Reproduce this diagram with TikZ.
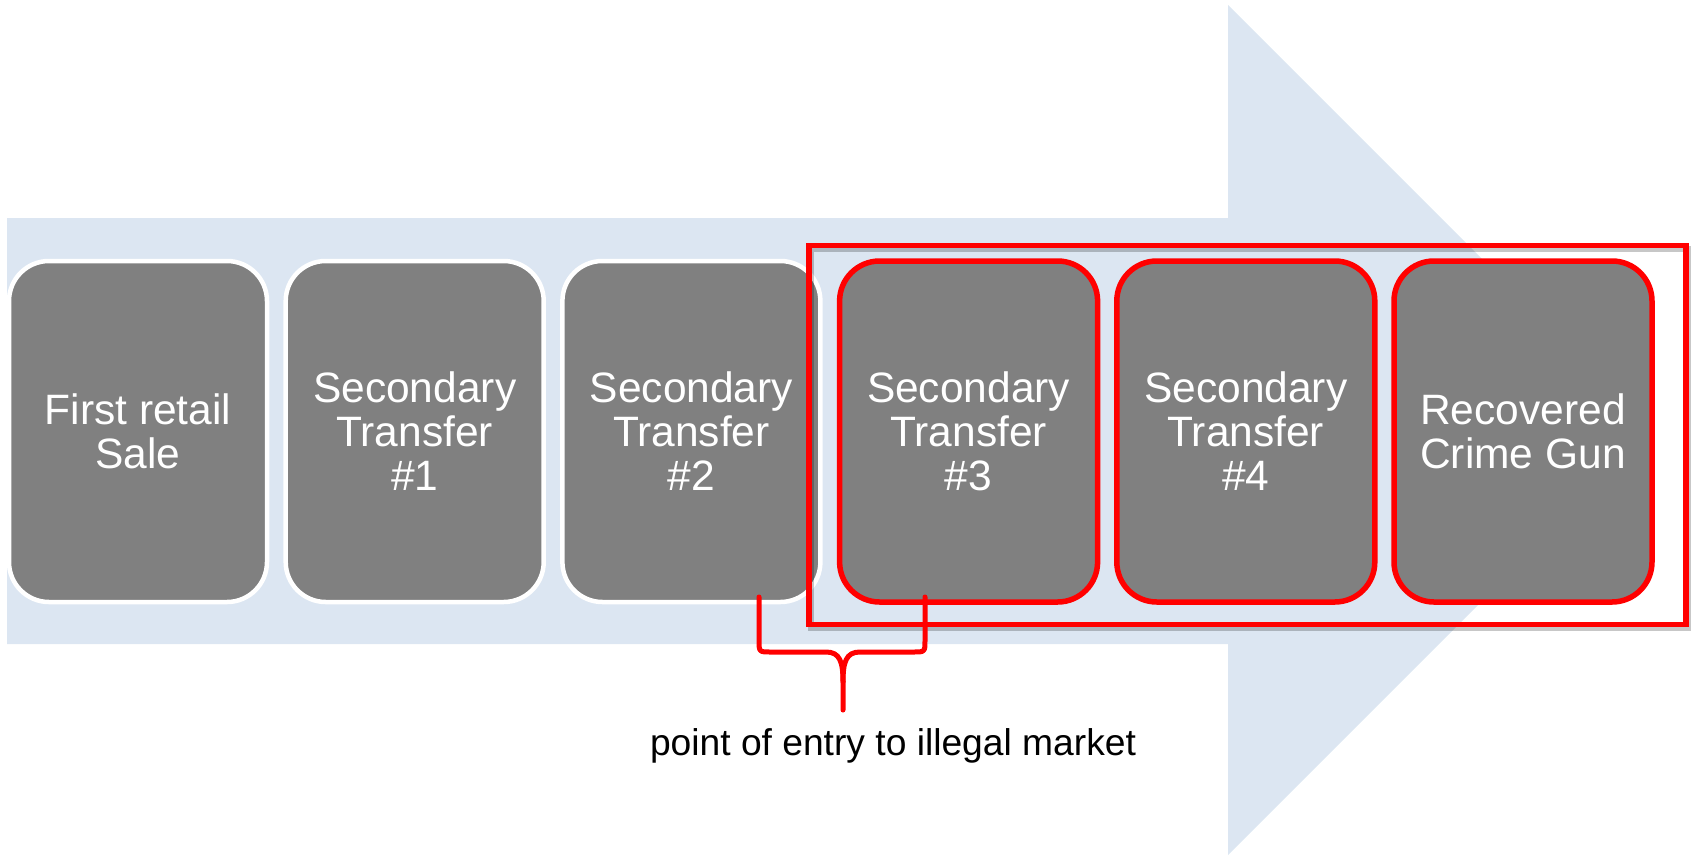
\documentclass[tikz,border=0pt]{standalone}
\usepackage{fontspec}
\setmainfont{Liberation Sans}
\definecolor{arrowblue}{HTML}{DCE6F2}
\definecolor{boxgray}{HTML}{808080}
\definecolor{markred}{HTML}{FF0000}
\begin{document}
\begin{tikzpicture}[x=1pt,y=-1pt,
  gbox/.style={draw=white, line width=4.5pt, fill=boxgray, rounded corners=40pt,
    minimum width=258pt, minimum height=341pt, inner sep=0pt, align=center,
    text=white, font=\fontsize{42.5}{44}\selectfont},
  rbox/.style={gbox, draw=markred, line width=5.5pt},
  frame/.style={draw=markred, line width=5.5pt, minimum width=877pt, minimum height=379pt, inner sep=0pt},
  shadowline/.style={draw=black, opacity=0.22, line width=6pt},
  bracepath/.style={draw=markred, line width=5pt, line cap=round, line join=round}]
\useasboundingbox (0,0) rectangle (1698,855);
% big arrow
\fill[arrowblue] (7,218) -- (1228,218) -- (1228,5) -- (1653,430) -- (1228,855) -- (1228,644) -- (7,644) -- cycle;
% boxes
\node[gbox] (b1) at (138,431.5) {First retail\\Sale};
\node[gbox] (b2) at (414.7,431.5) {Secondary\\Transfer\\\#1};
\node[gbox] (b3) at (691.4,431.5) {Secondary\\Transfer\\\#2};
\node[rbox] (b4) at (968.6,431.5) {Secondary\\Transfer\\\#3};
\node[rbox] (b5) at (1245.8,431.5) {Secondary\\Transfer\\\#4};
\node[rbox] (b6) at (1523,431.5) {Recovered\\Crime Gun};
% frame with shadow
\node[frame, shadowline] (frameshadow) at (1249.5,438) {};
\node[frame] (fr) at (1247.5,435) {};
% brace
\coordinate (bl) at (759,597);
\coordinate (br) at (925,597);
\coordinate (bt) at (843,710);
\draw[bracepath] (bl) -- (759,640) .. controls (759,652) .. (771,652) -- (826,652)
  .. controls (840,652) and (843,662) .. (843,682) -- (bt);
\draw[bracepath] (br) -- (925,640) .. controls (925,652) .. (913,652) -- (860,652)
  .. controls (846,652) and (843,662) .. (843,682);
% label
\node[font=\fontsize{37.2}{40}\selectfont, anchor=base, inner sep=0pt] (lab) at (893,755) {point of entry to illegal market};
\end{tikzpicture}
\end{document}
